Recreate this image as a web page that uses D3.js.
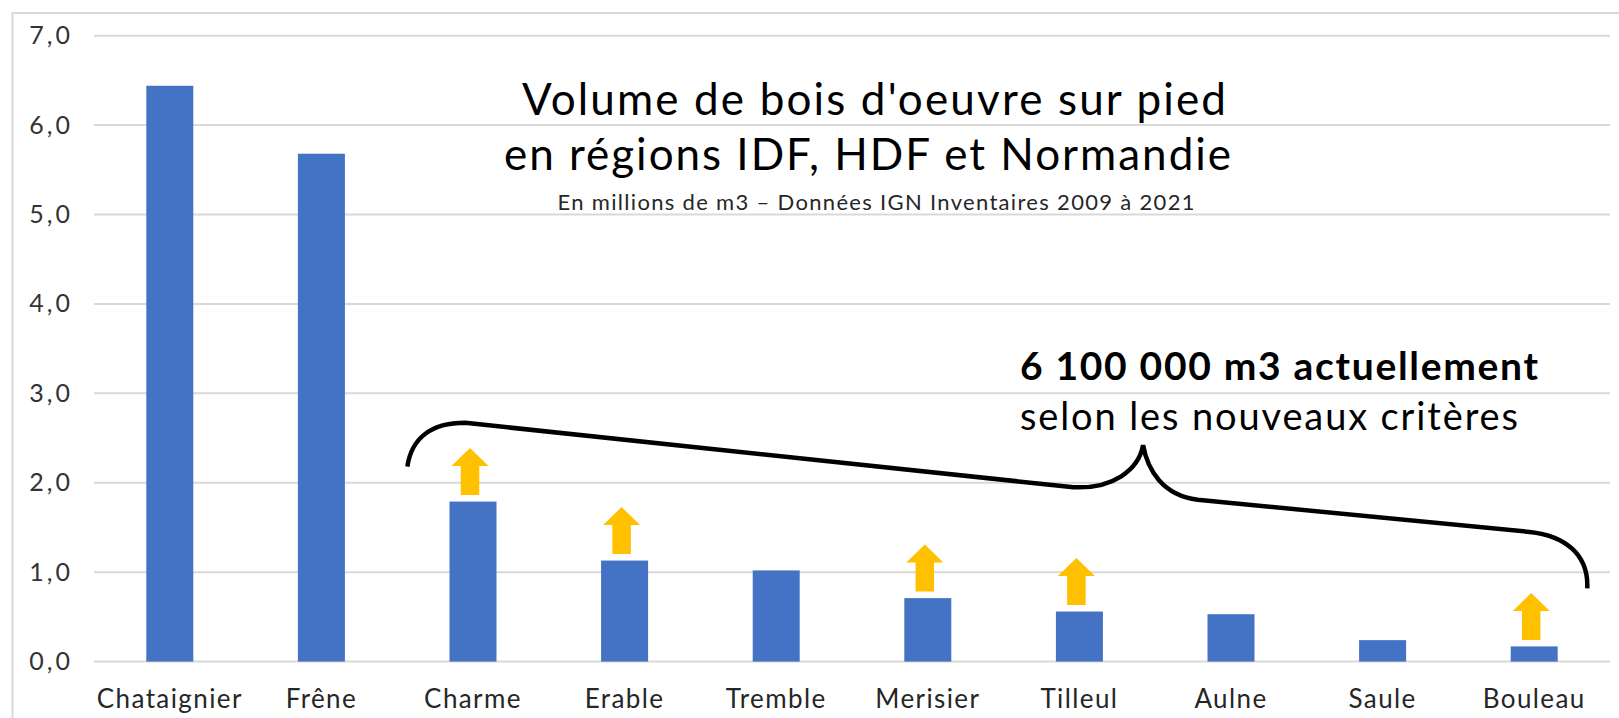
<!DOCTYPE html>
<html lang="fr">
<head>
<meta charset="utf-8">
<title>Volume de bois d'oeuvre sur pied</title>
<script src="https://cdn.jsdelivr.net/npm/d3@7"></script>
<style>
  html, body { margin: 0; padding: 0; background: #fff; }
  svg { display: block; }
  text { font-family: Lato, "Open Sans", sans-serif; }
</style>
</head>
<body>
<svg id="chart" width="1619" height="718"></svg>
<script>
// Volume de bois d'oeuvre (millions de m3) par essence
const categories = ["Chataignier", "Frêne", "Charme", "Erable", "Tremble", "Merisier", "Tilleul", "Aulne", "Saule", "Bouleau"];
const volumes = [6.44, 5.68, 1.79, 1.13, 1.02, 0.71, 0.56, 0.53, 0.24, 0.17];
const yTicks = [0, 1, 2, 3, 4, 5, 6, 7];
// Essences dont le volume augmente avec les nouveaux critères
const arrowCategories = ["Charme", "Erable", "Merisier", "Tilleul", "Bouleau"];

const titleLines = ["Volume de bois d'oeuvre sur pied", "en régions IDF, HDF et Normandie"];
const subtitle = "En millions de m3 – Données IGN Inventaires 2009 à 2021";
const noteBold = "6 100 000 m3 actuellement";
const noteText = "selon les nouveaux critères";

const W = 1619, H = 718;
const plot = { left: 94, right: 1610, top: 35.7, bottom: 661.6 };

const svg = d3.select("#chart");

// cadre
svg.append("rect")
  .attr("x", 12.5).attr("y", 13)
  .attr("width", W).attr("height", H)
  .attr("fill", "#fff")
  .attr("stroke", "#d9d9d9").attr("stroke-width", 2);

const x = d3.scaleBand()
  .domain(categories)
  .range([plot.left, plot.right])
  .paddingInner(0.69)
  .paddingOuter(0.345);

const y = d3.scaleLinear()
  .domain([0, 7])
  .range([plot.bottom, plot.top]);

const fmt = v => d3.format(".1f")(v).replace(".", ",");

// grille horizontale
svg.append("g")
  .selectAll("line")
  .data(yTicks)
  .join("line")
  .attr("x1", plot.left).attr("x2", plot.right)
  .attr("y1", d => y(d)).attr("y2", d => y(d))
  .attr("stroke", "#d9d9d9").attr("stroke-width", 2);

// axe vertical (libellés seuls)
const yAxis = svg.append("g")
  .attr("transform", `translate(${plot.left - 21},0)`)
  .call(d3.axisLeft(y).tickValues(yTicks).tickFormat(fmt).tickSize(0).tickPadding(0));
yAxis.select(".domain").remove();
yAxis.selectAll("text")
  .attr("font-size", 25)
  .attr("letter-spacing", 3)
  .attr("fill", "#333")
  .style("font-family", "Lato, sans-serif");

// axe horizontal (libellés seuls)
const xAxis = svg.append("g")
  .attr("transform", `translate(0,${plot.bottom})`)
  .call(d3.axisBottom(x).tickSize(0).tickPadding(28));
xAxis.select(".domain").remove();
xAxis.selectAll("text")
  .attr("font-size", 26)
  .attr("letter-spacing", 1.4)
  .attr("fill", "#262626")
  .style("font-family", "Lato, sans-serif");

// barres
svg.append("g")
  .selectAll("rect")
  .data(categories.map((c, i) => ({ c, v: volumes[i] })))
  .join("rect")
  .attr("x", d => x(d.c))
  .attr("y", d => y(d.v))
  .attr("width", x.bandwidth())
  .attr("height", d => y(0) - y(d.v))
  .attr("fill", "#4472c4");

// flèches jaunes au-dessus des barres concernées
const arrowGap = 6.5, shaftH = 29, headH = 18, shaftW = 18.5, headW = 37;
svg.append("g")
  .selectAll("path")
  .data(arrowCategories.map(c => ({ c, v: volumes[categories.indexOf(c)] })))
  .join("path")
  .attr("d", d => {
    const cx = x(d.c) + x.bandwidth() / 2 - 3;
    const b = y(d.v) - arrowGap;
    const hb = b - shaftH;
    const tip = hb - headH;
    return `M${cx - shaftW / 2},${b} L${cx + shaftW / 2},${b} L${cx + shaftW / 2},${hb} ` +
           `L${cx + headW / 2},${hb} L${cx},${tip} L${cx - headW / 2},${hb} ` +
           `L${cx - shaftW / 2},${hb} Z`;
  })
  .attr("fill", "#ffc000");

// accolade regroupant les essences concernées
const step = x.step();
const cxOf = c => x(c) + x.bandwidth() / 2;
const px = (c, off) => cxOf(c) + off * step;
const braceD = [
  `M${px("Charme", -0.433)},${y(2.18)}`,
  `C${px("Charme", -0.407)},${y(2.48)} ${px("Charme", -0.29)},${y(2.67)} ${px("Charme", -0.05)},${y(2.67)}`,
  `L${px("Tilleul", -0.04)},${y(1.95)}`,
  `C${px("Tilleul", 0.22)},${y(1.93)} ${px("Tilleul", 0.39)},${y(2.14)} ${px("Tilleul", 0.42)},${y(2.42)}`,
  `C${px("Tilleul", 0.45)},${y(2.14)} ${px("Tilleul", 0.55)},${y(1.86)} ${px("Tilleul", 0.78)},${y(1.81)}`,
  `L${px("Bouleau", -0.03)},${y(1.45)}`,
  `C${px("Bouleau", 0.2)},${y(1.41)} ${px("Bouleau", 0.36)},${y(1.2)} ${px("Bouleau", 0.35)},${y(0.82)}`
].join(" ");
svg.append("path")
  .attr("d", braceD)
  .attr("fill", "none")
  .attr("stroke", "#000")
  .attr("stroke-width", 4.5);

// titre
const title = svg.append("g").attr("text-anchor", "middle");
title.append("text")
  .attr("x", 874).attr("y", 115)
  .attr("font-size", 44)
  .attr("textLength", 704).attr("lengthAdjust", "spacing")
  .attr("fill", "#000")
  .text(titleLines[0]);
title.append("text")
  .attr("x", 867.5).attr("y", 170)
  .attr("font-size", 44)
  .attr("textLength", 727).attr("lengthAdjust", "spacing")
  .attr("fill", "#000")
  .text(titleLines[1]);
title.append("text")
  .attr("x", 876).attr("y", 210)
  .attr("font-size", 22)
  .attr("textLength", 637).attr("lengthAdjust", "spacing")
  .attr("fill", "#262626")
  .text(subtitle);

// annotation
svg.append("text")
  .attr("x", 1020).attr("y", 380)
  .attr("font-size", 39)
  .attr("font-weight", 700)
  .attr("textLength", 518).attr("lengthAdjust", "spacing")
  .attr("fill", "#000")
  .text(noteBold);
svg.append("text")
  .attr("x", 1020).attr("y", 430)
  .attr("font-size", 38)
  .attr("textLength", 498).attr("lengthAdjust", "spacing")
  .attr("fill", "#000")
  .text(noteText);
</script>
</body>
</html>
